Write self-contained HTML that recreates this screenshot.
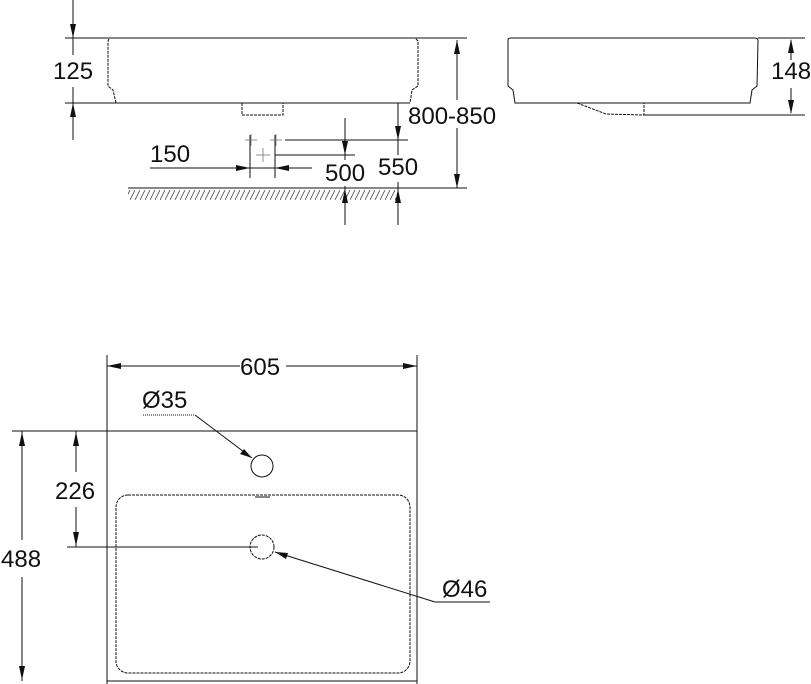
<!DOCTYPE html>
<html><head><style>
html,body{margin:0;padding:0;background:#fff;}
svg{display:block;}
text{font-family:"Liberation Sans",sans-serif;fill:#111;}
</style></head><body>
<svg width="811" height="684" viewBox="0 0 811 684" xmlns="http://www.w3.org/2000/svg">
<defs>
<pattern id="h" width="5" height="10" patternUnits="userSpaceOnUse">
<line x1="0" y1="10" x2="5" y2="0" stroke="#444" stroke-width="0.8"/>
</pattern>
</defs>
<g stroke="#111" stroke-width="1" fill="none">
<line x1="65" y1="38" x2="467" y2="38"/>
<line x1="65" y1="103" x2="410" y2="103"/>
<path d="M109,39 L108,41 L108,86 L113,90 L116,103" stroke-dasharray="3,1"/>
<path d="M416,39 L418,41 L418,86 L412,90 L410,103" stroke-dasharray="3,1"/>
<path d="M242,103 L242,115 L283,115 L283,103" stroke-dasharray="3,1"/>
<line x1="73" y1="0" x2="73" y2="55"/>
<line x1="73" y1="87" x2="73" y2="140"/>
<line x1="457" y1="40" x2="457" y2="100"/>
<line x1="457" y1="128" x2="457" y2="188"/>
<line x1="128" y1="188" x2="467" y2="188"/>
<line x1="398" y1="103" x2="398" y2="155"/>
<line x1="398" y1="182" x2="398" y2="225"/>
<line x1="285" y1="140" x2="408" y2="140"/>
<line x1="345" y1="118" x2="345" y2="160"/>
<line x1="345" y1="186" x2="345" y2="225"/>
<line x1="275" y1="155" x2="355" y2="155"/>
<line x1="150" y1="168" x2="312" y2="168"/>
<line x1="250" y1="135" x2="250" y2="178"/>
<line x1="275" y1="135" x2="275" y2="178"/>
<path d="M508,40 Q508,38 511,38 L755,38 Q758,38 758,41 L757,86 L752,90 L750,103 L515,103 L513,90 L508,86 Z"/>
<line x1="758" y1="38" x2="805" y2="38"/>
<path d="M577,103 L606,114 L644,115 L644,103" stroke-dasharray="3,1"/>
<line x1="644" y1="115" x2="805" y2="115"/>
<line x1="791" y1="40" x2="791" y2="60"/>
<line x1="791" y1="88" x2="791" y2="113"/>
<line x1="107" y1="355" x2="107" y2="684"/>
<line x1="417" y1="355" x2="417" y2="684"/>
<line x1="107" y1="366" x2="240" y2="366"/>
<line x1="286" y1="366" x2="417" y2="366"/>
<line x1="12" y1="431" x2="417" y2="431"/>
<line x1="107" y1="681" x2="417" y2="681"/>
<rect x="116" y="495" width="294" height="178" rx="12" stroke-dasharray="3,1"/>
<circle cx="262" cy="466" r="11"/>
<circle cx="262" cy="547" r="12" stroke-dasharray="3,1"/>
<line x1="67" y1="547" x2="258" y2="547"/>
<line x1="76" y1="431" x2="76" y2="472"/>
<line x1="76" y1="507" x2="76" y2="547"/>
<line x1="22" y1="431" x2="22" y2="540"/>
<line x1="22" y1="577" x2="22" y2="681"/>
<line x1="143" y1="415" x2="195" y2="415" stroke-dasharray="1,1"/>
<line x1="195" y1="415" x2="252" y2="458"/>
<line x1="435" y1="602" x2="490" y2="602"/>
<line x1="435" y1="602" x2="275" y2="552"/>
<path d="M255,497 L270,497"/>
</g>
<rect x="128" y="190" width="268" height="10" fill="url(#h)"/>
<g fill="#111">
<polygon points="73,38 70,24 76,24"/>
<polygon points="73,103 70,117 76,117"/>
<polygon points="457,40 454,54 460,54"/>
<polygon points="457,188 454,174 460,174"/>
<polygon points="398,140 395,126 401,126"/>
<polygon points="398,189 395,203 401,203"/>
<polygon points="345,155 342,141 348,141"/>
<polygon points="345,189 342,203 348,203"/>
<polygon points="250,168 236,165 236,171"/>
<polygon points="275,168 289,165 289,171"/>
<polygon points="791,39 788,53 794,53"/>
<polygon points="791,114 788,100 794,100"/>
<polygon points="107,366 121,363 121,369"/>
<polygon points="417,366 403,363 403,369"/>
<polygon points="76,432 73,446 79,446"/>
<polygon points="76,546 73,532 79,532"/>
<polygon points="22,432 19,446 25,446"/>
<polygon points="22,680 19,666 25,666"/>
<polygon points="252,458 240,454 244,449"/>
<polygon points="275,552 288,553 286,559"/>
</g>
<g font-size="24">
<text x="53" y="79">125</text>
<text x="408" y="124">800-850</text>
<text x="150" y="162">150</text>
<text x="325" y="181">500</text>
<text x="378" y="175">550</text>
<text x="771" y="79">148</text>
<text x="240" y="375">605</text>
<text x="142" y="408">Ø35</text>
<text x="55" y="499">226</text>
<text x="1" y="567">488</text>
<text x="442" y="597">Ø46</text>
</g>
<g stroke="#777" stroke-width="0.8" fill="none">
<line x1="245" y1="140" x2="257" y2="140"/><line x1="251" y1="134" x2="251" y2="146"/>
<line x1="270" y1="140" x2="282" y2="140"/><line x1="276" y1="134" x2="276" y2="146"/>
<line x1="256" y1="155" x2="270" y2="155"/><line x1="263" y1="148" x2="263" y2="162"/>
</g>
</svg>
</body></html>
